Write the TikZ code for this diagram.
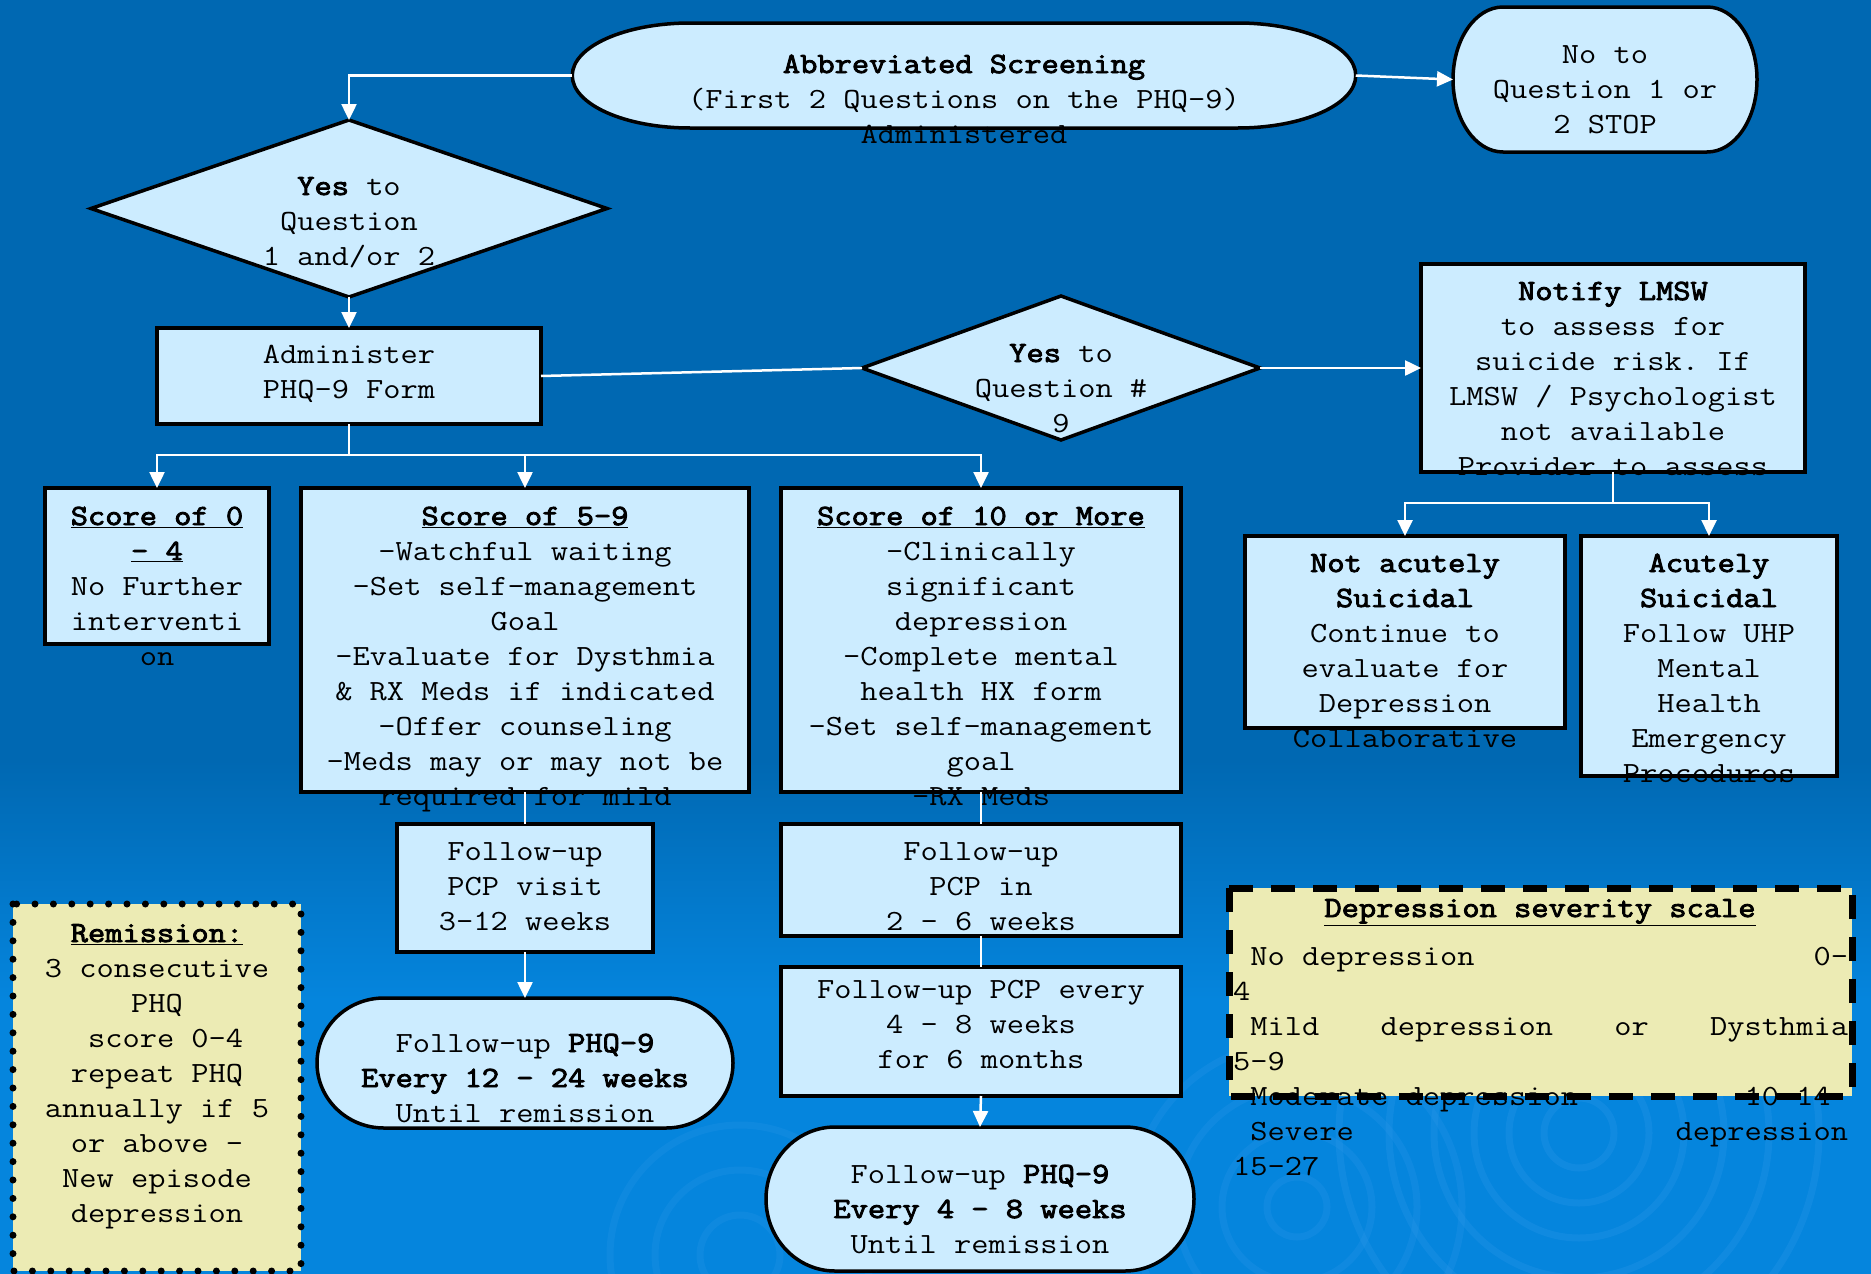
\documentclass[tikz,border=0pt]{standalone}
\usepackage{fontspec}
\setmonofont[FakeStretch=1.143, BoldFont={Latin Modern Mono}, BoldFeatures={FakeBold=3}]{Latin Modern Mono}
\usetikzlibrary{arrows.meta,shapes.geometric,calc}
\definecolor{bgtop}{HTML}{0068B2}
\definecolor{bgbot}{HTML}{0585DD}
\definecolor{boxfill}{HTML}{CCECFF}
\definecolor{khaki}{HTML}{ECEBB4}
\definecolor{ripple}{HTML}{2A96E8}
\newcommand\stadium[3]{\path[termst] ($(#1.north west)+(#2,0)$) -- ($(#1.north east)+(-#2,0)$) arc[start angle=90,end angle=-90,x radius=#2,y radius=#3] -- ($(#1.south west)+(#2,0)$) arc[start angle=270,end angle=90,x radius=#2,y radius=#3] -- cycle;}
\begin{document}
\begin{tikzpicture}[x=1pt,y=1pt,
  font=\fontsize{29.3}{35}\selectfont\ttfamily,
  boxst/.style={draw=black, line width=3.5pt, fill=boxfill, inner sep=0pt, outer sep=0pt},
  anchorst/.style={inner sep=0pt, outer sep=0pt},
  termst/.style={draw=black, line width=3.5pt, fill=boxfill},
  dia/.style={diamond, draw=black, line width=3.5pt, fill=boxfill, inner sep=0pt, outer sep=0pt},
  txt/.style={anchor=base, align=center, inner sep=0pt, text=black},
  link/.style={draw=white, line width=2.5pt},
  arr/.style={link, -{Triangle[length=16pt,width=15pt]}},
]
% background
\useasboundingbox (0,0) rectangle (1871,-1274);
\fill[bgtop] (0,0) rectangle (1871,-1274);
\shade[top color=bgtop, bottom color=bgbot] (0,-760) rectangle (1871,-1000);
\fill[bgbot] (0,-1000) rectangle (1871,-1274);
\begin{scope}
\clip (0,0) rectangle (1871,-1274);
\foreach \r in {35,70,105,145,190,240} \draw[ripple, line width=7pt, opacity=0.3] (1579,-1133) circle[radius=\r];
\foreach \r in {30,75,120,165} \draw[ripple, line width=7pt, opacity=0.28] (1297,-1207) circle[radius=\r];
\foreach \r in {40,85,130} \draw[ripple, line width=7pt, opacity=0.25] (740,-1255) circle[radius=\r];
\end{scope}

% terminators
\node[anchorst, minimum width=783.5pt, minimum height=105pt] (top) at (964,-75.5) {};
\stadium{top}{118}{52.5}
\node[anchorst, minimum width=304pt, minimum height=145pt] (stop) at (1605,-79.5) {};
\stadium{stop}{50}{72.5}
\node[anchorst, minimum width=416pt, minimum height=130pt] (o1) at (525,-1063) {};
\stadium{o1}{67}{65}
\node[anchorst, minimum width=428pt, minimum height=144pt] (o2) at (980,-1199) {};
\stadium{o2}{69}{72}

% diamonds
\node[dia, minimum width=516pt, minimum height=177pt] (d1) at (349,-208.5) {};
\node[dia, minimum width=398pt, minimum height=144pt] (d2) at (1061,-368) {};

% boxes
\node[boxst, minimum width=384pt, minimum height=96pt] (adm) at (349,-376) {};
\node[boxst, minimum width=224pt, minimum height=156pt] (s04) at (157,-566) {};
\node[boxst, minimum width=448pt, minimum height=304pt] (s59) at (525,-640) {};
\node[boxst, minimum width=400pt, minimum height=304pt] (s10) at (981,-640) {};
\node[boxst, minimum width=384pt, minimum height=208pt] (notify) at (1613,-368) {};
\node[boxst, minimum width=320pt, minimum height=192pt] (notac) at (1405,-632) {};
\node[boxst, minimum width=256pt, minimum height=240pt] (acut) at (1709,-656) {};
\node[boxst, minimum width=256pt, minimum height=128pt] (fu1) at (525,-888) {};
\node[boxst, minimum width=400pt, minimum height=112pt] (fu2) at (981,-880) {};
\node[boxst, minimum width=400pt, minimum height=129pt] (fu3) at (981,-1031.5) {};

% note boxes
\node[anchorst, fill=khaki, minimum width=288pt, minimum height=367pt] (rem) at (157,-1087.5) {};
\draw[line width=7pt, dash pattern=on 0pt off 18.4pt, line cap=round] (rem.north west) rectangle (rem.south east);
\node[anchorst, fill=khaki, minimum width=623pt, minimum height=208pt] (sev) at (1540.5,-992) {};

% texts (anchored at the baseline of their last line)
\node[txt] (topt) at (964,-143) {\textbf{Abbreviated Screening}\\(First 2 Questions on the PHQ-9)\\Administered};
\node[txt] (stopt) at (1605,-133) {No to\\Question 1 or\\2 STOP};
\node[txt] (d1t) at (349,-265) {\textbf{Yes} to\\Question\\1 and/or 2};
\node[txt] (admt) at (349,-398) {Administer\\PHQ-9 Form};
\node[txt] (d2t) at (1061,-432) {\textbf{Yes} to\\Question \#\\9};
\node[txt] (notifyt) at (1613,-475) {\textbf{Notify LMSW}\\to assess for\\suicide risk. If\\LMSW / Psychologist\\not available\\Provider to assess};
\node[txt] (s04t) at (157,-665) {\underline{\textbf{Score of 0}}\\\underline{\textbf{– 4}}\\No Further\\interventi\\on};
\node[txt] (s59t) at (525,-805) {\underline{\textbf{Score of 5-9}}\\-Watchful waiting\\-Set self-management\\Goal\\-Evaluate for Dysthmia\\\& RX Meds if indicated\\-Offer counseling\\-Meds may or may not be\\required for mild};
\node[txt] (s10t) at (981,-805) {\underline{\textbf{Score of 10 or More}}\\-Clinically\\significant\\depression\\-Complete mental\\health HX form\\-Set self-management\\goal\\-RX Meds};
\node[txt] (notact) at (1405,-747) {\textbf{Not acutely}\\\textbf{Suicidal}\\Continue to\\evaluate for\\Depression\\Collaborative};
\node[txt] (acutt) at (1709,-782) {\textbf{Acutely}\\\textbf{Suicidal}\\Follow UHP\\Mental\\Health\\Emergency\\Procedures};
\node[txt] (fu1t) at (525,-930) {Follow-up\\PCP visit\\3-12 weeks};
\node[txt] (fu2t) at (981,-930) {Follow-up\\PCP in\\2 – 6 weeks};
\node[txt] (fu3t) at (981,-1068) {Follow-up PCP every\\4 – 8 weeks\\for 6 months};
\node[txt] (o1t) at (525,-1122) {Follow-up \textbf{PHQ-9}\\\textbf{Every 12 – 24 weeks}\\Until remission};
\node[txt] (o2t) at (980,-1253) {Follow-up \textbf{PHQ-9}\\\textbf{Every 4 – 8 weeks}\\Until remission};
\node[txt] (remt) at (157,-1222) {\underline{\textbf{Remission:}}\\3 consecutive\\PHQ\\~score 0-4\\repeat PHQ\\annually if 5\\or above –\\New episode\\depression};
\node[txt] (sevt) at (1540,-917) {\underline{\textbf{Depression severity scale}}};
\node[anchor=base west, align=left, inner sep=0pt] (sevb) at (1233,-1175) {\hbox to 615pt{~No depression\hfill 0-}\\4\\\hbox to 615pt{~Mild\hfill depression\hfill or\hfill Dysthmia}\\5-9\\\hbox to 615pt{~Moderate depression\hfill 10-14~}\\\hbox to 615pt{~Severe\hfill depression}\\15-27};
\draw[line width=7pt, dash pattern=on 24pt off 18pt] (sev.north west) rectangle (sev.south east);

% connectors
\draw[arr] (top.west) -| (d1.north);
\draw[arr] (top.east) -- (stop.west);
\draw[arr] (d1.south) -- (adm.north);
\draw[link] (adm.east) -- (d2.west);
\draw[arr] (d2.east) -- (notify.west);
\coordinate (j1) at (349,-455);
\draw[link] (adm.south) -- (j1);
\draw[arr] (j1) -| (s04.north);
\draw[arr] (j1) -| (s59.north);
\draw[arr] (j1) -| (s10.north);
\coordinate (j2) at (1613,-503);
\draw[link] (notify.south) -- (j2);
\draw[arr] (j2) -| (notac.north);
\draw[arr] (j2) -| (acut.north);
\draw[link] (s59.south) -- (fu1.north);
\draw[arr] (fu1.south) -- (o1.north);
\draw[link] (s10.south) -- (fu2.north);
\draw[link] (fu2.south) -- (fu3.north);
\draw[arr] (fu3.south) -- (o2.north);
\end{tikzpicture}
\end{document}
